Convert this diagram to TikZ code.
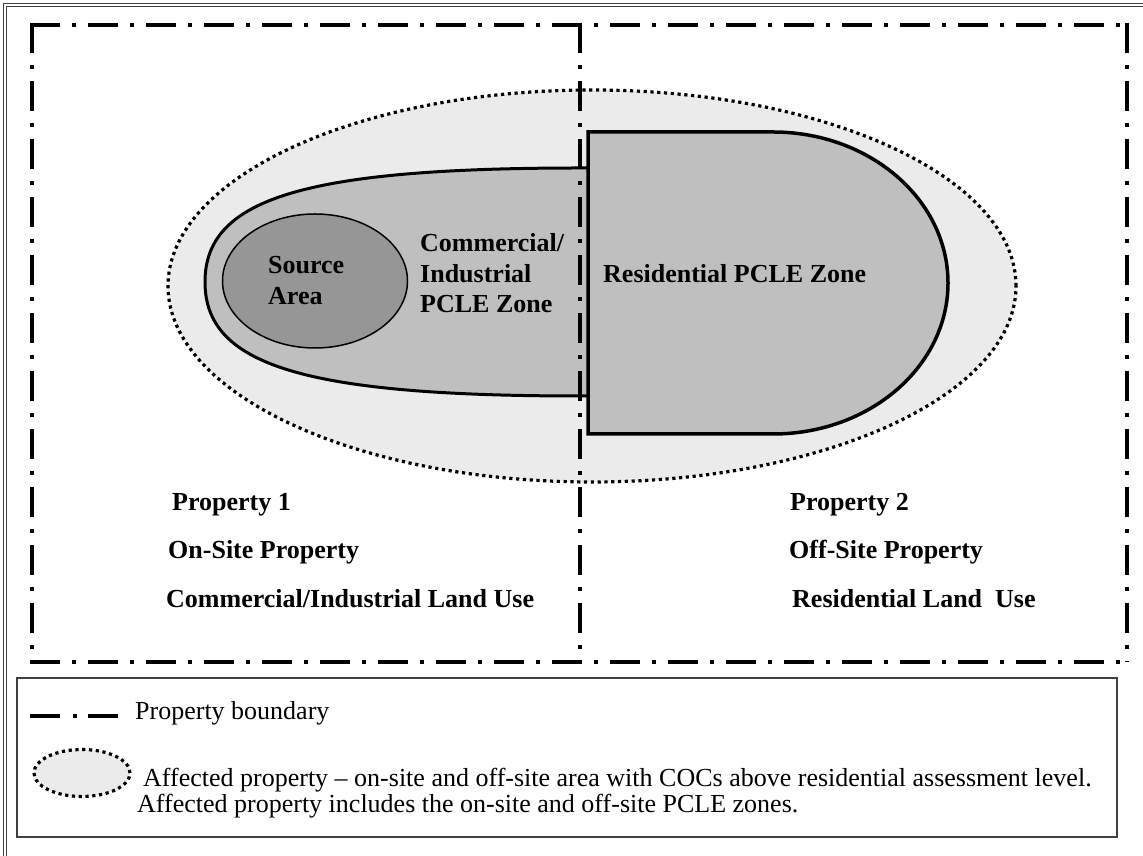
\documentclass[tikz,border=0pt]{standalone}
\usepackage{fontspec}
\setmainfont{Liberation Serif}
\definecolor{affgray}{gray}{0.92}
\definecolor{zonegray}{gray}{0.75}
\definecolor{srcgray}{gray}{0.59}
\definecolor{framegray}{gray}{0.25}
\begin{document}
\begin{tikzpicture}[x=1pt,y=1pt,
  boundary/.style={line width=4pt, dash pattern=on 30pt off 12pt on 4pt off 12pt},
  dotline/.style={line width=3.2pt, dash pattern=on 3.2pt off 3.6pt},
  zoneline/.style={line width=3pt},
  lbl/.style={anchor=base west, inner sep=0pt, font=\bfseries\fontsize{26}{31}\selectfont},
  leg/.style={anchor=base west, inner sep=0pt, font=\fontsize{26}{31}\selectfont}]
\useasboundingbox (0,0) rectangle (1143,856);
% outer frame
\draw[framegray, line width=0.8pt, double=white, double distance=2.4pt] (5,851) rectangle (1170,-30);
% affected property (dotted ellipse)
\fill[affgray] (592,570) ellipse [x radius=424pt, y radius=196pt];
\draw[dotline] (592,570) ellipse [x radius=424pt, y radius=196pt];
% commercial / industrial PCLE zone
\fill[zonegray] (590,688) -- (580,688) .. controls (300,688) and (205,656) .. (205,574)
  .. controls (205,492) and (300,460) .. (580,460) -- (590,460) -- cycle;
\draw[zoneline] (590,688) -- (580,688) .. controls (300,688) and (205,656) .. (205,574)
  .. controls (205,492) and (300,460) .. (580,460) -- (590,460);
% source area
\draw[line width=1.5pt, fill=srcgray] (315,575) ellipse [x radius=92.5pt, y radius=67pt];
% residential PCLE zone
\draw[line width=3.5pt, fill=zonegray] (588,724) -- (773,724)
  arc[start angle=90, end angle=-90, x radius=175pt, y radius=151pt] -- (588,422) -- cycle;
% property boundaries
\draw[boundary] (30,831) -- (1129,831);
\draw[boundary] (32,833) -- (32,194);
\draw[boundary] (1127,833) -- (1127,194);
\draw[boundary] (30,194) -- (1129,194);
\draw[boundary] (580,833) -- (580,194);
% labels in the zones
\node[lbl] (src1) at (268,582) {Source};
\node[lbl] (src2) at (268,551) {Area};
\node[lbl] (ci1) at (420,604) {Commercial/};
\node[lbl] (ci2) at (420,573) {Industrial};
\node[lbl] (ci3) at (420,543) {PCLE Zone};
\node[lbl] (res) at (603,573) {Residential PCLE Zone};
% property labels
\node[lbl] (p1a) at (172,345) {Property 1};
\node[lbl] (p1b) at (168,297) {On-Site Property};
\node[lbl] (p1c) at (166,248) {Commercial/Industrial Land Use};
\node[lbl] (p2a) at (790,345) {Property 2};
\node[lbl] (p2b) at (789,297) {Off-Site Property};
\node[lbl] (p2c) at (792,248) {Residential Land\ \ Use};
% legend
\draw[framegray, line width=1.6pt] (17,178) rectangle (1117,19);
\coordinate (la) at (30,140);
\coordinate (lb) at (118,140);
\draw[line width=4pt, dash pattern=on 30pt off 13pt on 4pt off 11pt] (la) -- (lb);
\node[leg] (lt1) at (135,136) {Property boundary};
\fill[affgray] (82,83) ellipse [x radius=48pt, y radius=23.5pt];
\draw[dotline] (82,83) ellipse [x radius=48pt, y radius=23.5pt];
\node[leg] (lt2) at (143,69) {Affected property -- on-site and off-site area with COCs above residential assessment level.};
\node[leg] (lt3) at (137,43) {Affected property includes the on-site and off-site PCLE zones.};
\end{tikzpicture}
\end{document}
